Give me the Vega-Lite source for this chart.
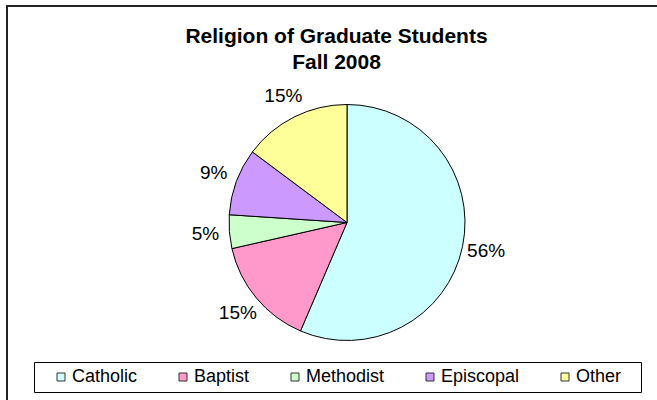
{
  "$schema": "https://vega.github.io/schema/vega-lite/v6.json",
  "autosize": {"type": "none"},
  "width": 680,
  "height": 433,
  "padding": {"left": 7, "top": 6, "right": -30, "bottom": -39},
  "background": "white",
  "view": {"stroke": "#222", "strokeWidth": 2, "fill": "white"},
  "config": {
    "font": "Liberation Sans"
  },
  "title": {
    "text": ["Religion of Graduate Students", "Fall 2008"],
    "font": "Liberation Sans",
    "fontSize": 21,
    "fontWeight": "bold",
    "color": "#000",
    "lineHeight": 25.5,
    "anchor": "middle",
    "frame": "group",
    "offset": -66.5,
    "dx": -10.5
  },
  "data": {
    "values": [
      {"religion": "Catholic", "share": 0.5645, "rank": 1},
      {"religion": "Baptist", "share": 0.150, "rank": 2},
      {"religion": "Methodist", "share": 0.046, "rank": 3},
      {"religion": "Episcopal", "share": 0.0915, "rank": 4},
      {"religion": "Other", "share": 0.148, "rank": 5}
    ]
  },
  "encoding": {
    "theta": {"field": "share", "type": "quantitative", "stack": true},
    "order": {"field": "rank", "type": "quantitative"}
  },
  "layer": [
    {
      "mark": {"type": "arc", "outerRadius": 118, "stroke": "#000", "strokeWidth": 1},
      "encoding": {
        "color": {
          "field": "religion",
          "type": "nominal",
          "sort": ["Catholic", "Baptist", "Methodist", "Episcopal", "Other"],
          "scale": {
            "domain": ["Catholic", "Baptist", "Methodist", "Episcopal", "Other"],
            "range": ["#CCFFFF", "#FF99CC", "#CCFFCC", "#CC99FF", "#FFFF99"]
          },
          "legend": {
            "orient": "none",
            "legendX": 27,
            "legendY": 356,
            "direction": "horizontal",
            "title": " ",
            "titleOrient": "left",
            "titleFontSize": 1,
            "titlePadding": 12,
            "padding": 6,
            "strokeColor": "#000",
            "fillColor": "white",
            "labelFont": "Liberation Sans",
            "labelFontSize": 18,
            "labelColor": "#000",
            "labelLimit": 0,
            "labelOffset": 2,
            "columnPadding": 36,
            "symbolType": "square",
            "symbolSize": 64,
            "symbolStrokeColor": "#333",
            "symbolStrokeWidth": 1,
            "symbolOpacity": 1,
            "labelExpr": "datum.label === 'Other' ? 'Other\u2800' : datum.label"
          }
        }
      }
    },
    {
      "mark": {"type": "text", "radius": 142, "fontSize": 19, "font": "Liberation Sans"},
      "encoding": {
        "text": {"field": "share", "type": "quantitative", "format": ".0%"},
        "color": {"value": "#000"}
      }
    }
  ]
}
